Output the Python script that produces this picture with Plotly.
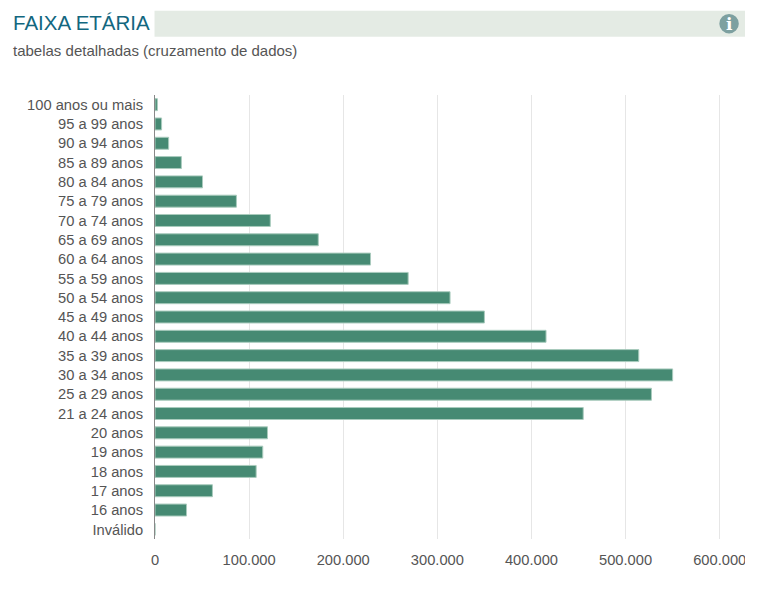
"""Faixa etaria - horizontal bar chart."""

import plotly.graph_objects as go

faixas = [
    "100 anos ou mais", "95 a 99 anos", "90 a 94 anos", "85 a 89 anos",
    "80 a 84 anos", "75 a 79 anos", "70 a 74 anos", "65 a 69 anos",
    "60 a 64 anos", "55 a 59 anos", "50 a 54 anos", "45 a 49 anos",
    "40 a 44 anos", "35 a 39 anos", "30 a 34 anos", "25 a 29 anos",
    "21 a 24 anos", "20 anos", "19 anos", "18 anos", "17 anos", "16 anos",
    "Inválido",
]
eleitores = [
    2500, 7000, 14500, 28000, 50500, 86500, 122500, 173500, 229000, 269000,
    313500, 350000, 415500, 514000, 550000, 527500, 455000, 119500, 114500,
    107500, 61000, 33500, 0,
]
x_ticks = [0, 100000, 200000, 300000, 400000, 500000, 600000]
x_labels = ["0", "100.000", "200.000", "300.000", "400.000", "500.000", "600.000"]

# page has an 8px body margin, so the figure starts at (8, 8)
WIDTH = 737
HEIGHT = 578
GREY = "#555555"
FONT = "Liberation Sans, Arial, sans-serif"

fig = go.Figure()
fig.add_trace(
    go.Bar(
        y=faixas,
        x=eleitores,
        orientation="h",
        marker=dict(color="#468a73", line=dict(color="#a9cbbd", width=1)),
        width=0.62,
    )
)
fig.update_layout(
    width=WIDTH,
    height=HEIGHT,
    autosize=False,
    showlegend=False,
    plot_bgcolor="white",
    paper_bgcolor="white",
    font=dict(family=FONT, size=14.7, color=GREY),
    margin=dict(l=146.5, r=0, t=86.5, b=46.5, autoexpand=False),
)
fig.update_xaxes(
    range=[0, 626900],
    tickvals=x_ticks,
    ticktext=x_labels,
    showgrid=True,
    gridcolor="#e6e6e6",
    gridwidth=1,
    zeroline=False,
    ticks="",
    ticklabeloverflow="allow",
    ticklabelstandoff=10,
    tickfont=dict(size=14.7, color=GREY),
)
fig.update_yaxes(
    autorange="reversed",
    showline=True,
    linecolor="#888888",
    linewidth=1,
    showgrid=False,
    ticks="",
    ticklen=0,
    ticklabelstandoff=8,
    tickfont=dict(size=14.7, color=GREY),
)

# header band and info icon
fig.add_shape(
    type="rect", xref="paper", yref="paper",
    x0=-0.0008, x1=1, y0=1.1314, y1=1.1899,
    fillcolor="#e4ebe4", line_width=0, layer="below",
)
fig.add_shape(
    type="circle", xref="paper", yref="paper",
    x0=0.9565, x1=0.9895, y0=1.1387, y1=1.1827,
    fillcolor="#7da0a0", line_width=0,
)
fig.add_annotation(
    text="FAIXA ETÁRIA", xref="paper", yref="paper", x=-0.2445, y=1.1640,
    xanchor="left", yanchor="middle", showarrow=False,
    font=dict(size=20.5, color="#12677f"),
)
fig.add_annotation(
    text="tabelas detalhadas (cruzamento de dados)", xref="paper", yref="paper",
    x=-0.2445, y=1.0999, xanchor="left", yanchor="middle", showarrow=False,
    font=dict(size=15, color=GREY),
)
fig.add_annotation(
    text="<b>i</b>", xref="paper", yref="paper", x=0.973, y=1.1607,
    xanchor="center", yanchor="middle", showarrow=False,
    font=dict(size=17, color="white", family="DejaVu Serif"),
)

fig.write_html("out.html")
